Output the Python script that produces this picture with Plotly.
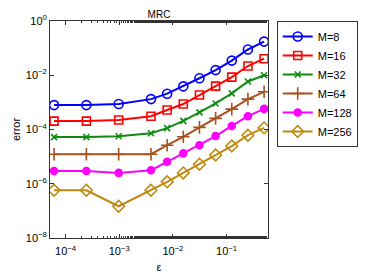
import plotly.graph_objects as go

eps = [2**-14, 2**-12, 2**-10, 2**-8, 2**-7, 2**-6, 2**-5, 2**-4, 2**-3, 2**-2, 2**-1]

log_err = {
    "M=8":   [-3.10, -3.10, -3.06, -2.88, -2.68, -2.41, -2.11, -1.81, -1.46, -1.05, -0.76],
    "M=16":  [-3.69, -3.69, -3.65, -3.51, -3.28, -3.06, -2.73, -2.40, -2.07, -1.66, -1.39],
    "M=32":  [-4.28, -4.28, -4.25, -4.14, -3.95, -3.68, -3.37, -3.04, -2.67, -2.23, -2.00],
    "M=64":  [-4.91, -4.91, -4.91, -4.91, -4.58, -4.27, -3.92, -3.59, -3.25, -2.88, -2.61],
    "M=128": [-5.53, -5.53, -5.60, -5.50, -5.19, -4.88, -4.58, -4.24, -3.87, -3.51, -3.24],
    "M=256": [-6.24, -6.24, -6.83, -6.24, -5.93, -5.60, -5.28, -4.94, -4.61, -4.21, -3.94],
}

x_tickvals = [1e-4, 1e-3, 1e-2, 1e-1]
x_ticktext = ["10<sup>−4</sup>", "10<sup>−3</sup>", "10<sup>−2</sup>", "10<sup>−1</sup>"]
y_tickvals = [1e-8, 1e-6, 1e-4, 1e-2, 1e0]
y_ticktext = ["10<sup>−8</sup>", "10<sup>−6</sup>", "10<sup>−4</sup>", "10<sup>−2</sup>", "10<sup>0</sup>"]

colors = ["#0000ff", "#ff0000", "#108a10", "#a8501f", "#ff00ff", "#c08a10"]
symbols = ["circle-open", "square-open", "x-thin-open", "cross-thin-open", "circle", "diamond-open"]
sizes = [9, 8, 6, 9, 7, 9]

fig = go.Figure()
for (name, vals), c, s, sz in zip(log_err.items(), colors, symbols, sizes):
    fig.add_trace(go.Scatter(
        x=eps, y=[10**v for v in vals], name=name, mode="lines+markers",
        line=dict(color=c, width=2),
        marker=dict(symbol=s, size=sz, color=c, line=dict(color=c, width=1.6)),
    ))

font = "Liberation Sans, Arial, sans-serif"
fig.update_layout(
    width=374, height=265,
    margin=dict(l=42, r=114, t=13, b=35, autoexpand=False),
    paper_bgcolor="white", plot_bgcolor="white",
    font=dict(family=font, size=11, color="black"),
    title=dict(text="MRC", x=0.5, xref="paper", y=1, yref="container", yanchor="top", pad=dict(t=3),
               font=dict(size=10, family=font)),
    showlegend=True,
    legend=dict(x=1.04, y=1, xanchor="left", yanchor="top", bgcolor="white",
                bordercolor="#333333", borderwidth=1, font=dict(size=11, family=font),
                tracegroupgap=0, itemwidth=30),
)
fig.update_xaxes(
    type="log", range=[-4.29, -0.228], showgrid=False, zeroline=False, automargin=False,
    showline=True, linecolor="#333333", linewidth=1, mirror="ticks",
    ticks="inside", ticklen=4, tickcolor="#333333",
    tickvals=x_tickvals, ticktext=x_ticktext, ticklabelstandoff=3,
    minor=dict(ticks="inside", ticklen=2, tickcolor="#333333", showgrid=False),
    title=dict(text="ε", standoff=7, font=dict(size=11)),
)
fig.update_yaxes(
    type="log", range=[-8, 0], showgrid=False, zeroline=False, automargin=False,
    showline=True, linecolor="#333333", linewidth=1, mirror="ticks",
    ticks="inside", ticklen=4, tickcolor="#333333",
    tickvals=y_tickvals, ticktext=y_ticktext,
    title=dict(text="error", standoff=2, font=dict(size=11)),
)

fig.write_html("out.html")
